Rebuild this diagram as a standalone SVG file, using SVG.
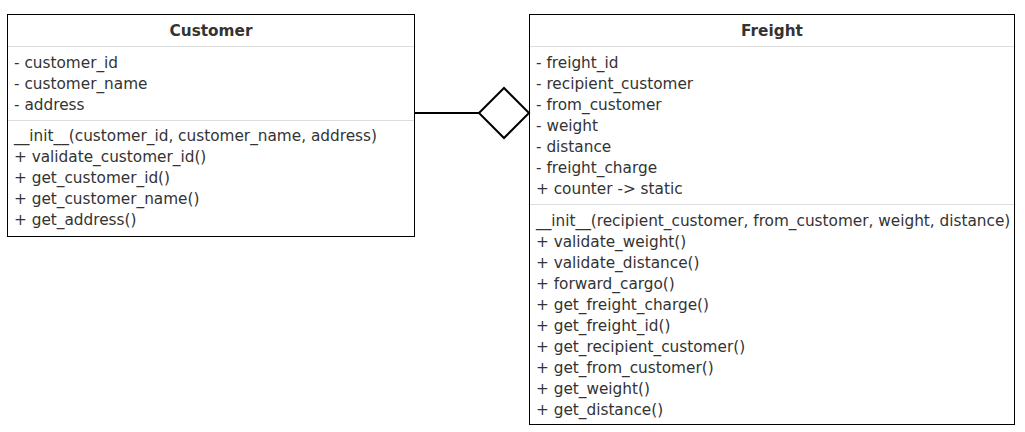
<svg xmlns="http://www.w3.org/2000/svg" width="1025" height="432" viewBox="0 0 1025 432">
<style>
.box{fill:#fff;stroke:#000;stroke-width:1}
.sep{stroke:#dddddd;stroke-width:1}
text{font-family:"DejaVu Sans",Verdana,sans-serif;font-size:15.3px;fill:#333}
.title{font-weight:bold;text-anchor:middle}
.conn{stroke:#000;stroke-width:2;fill:none}
</style>
<rect width="1025" height="432" fill="#fff"/>
<g id="customer">
<rect class="box" x="7.5" y="14.5" width="407" height="222"/>
<line class="sep" x1="8" y1="46.5" x2="414" y2="46.5"/>
<line class="sep" x1="8" y1="120.5" x2="414" y2="120.5"/>
<text class="title" x="211" y="36">Customer</text>
<text x="14" y="68">- customer_id</text>
<text x="14" y="89">- customer_name</text>
<text x="14" y="110">- address</text>
<text x="14" y="141">__init__(customer_id, customer_name, address)</text>
<text x="14" y="162">+ validate_customer_id()</text>
<text x="14" y="183">+ get_customer_id()</text>
<text x="14" y="204">+ get_customer_name()</text>
<text x="14" y="225">+ get_address()</text>
</g>
<g id="freight">
<rect class="box" x="529.5" y="14.5" width="485" height="410"/>
<line class="sep" x1="530" y1="46.5" x2="1014" y2="46.5"/>
<line class="sep" x1="530" y1="204.5" x2="1014" y2="204.5"/>
<text class="title" x="772" y="36">Freight</text>
<text x="536" y="68">- freight_id</text>
<text x="536" y="89">- recipient_customer</text>
<text x="536" y="110">- from_customer</text>
<text x="536" y="131">- weight</text>
<text x="536" y="152">- distance</text>
<text x="536" y="173">- freight_charge</text>
<text x="536" y="194">+ counter -&gt; static</text>
<text x="536" y="226">__init__(recipient_customer, from_customer, weight, distance)</text>
<text x="536" y="247">+ validate_weight()</text>
<text x="536" y="268">+ validate_distance()</text>
<text x="536" y="289">+ forward_cargo()</text>
<text x="536" y="310">+ get_freight_charge()</text>
<text x="536" y="331">+ get_freight_id()</text>
<text x="536" y="352">+ get_recipient_customer()</text>
<text x="536" y="373">+ get_from_customer()</text>
<text x="536" y="394">+ get_weight()</text>
<text x="536" y="415">+ get_distance()</text>
</g>
<g id="connectors">
<line class="conn" x1="414" y1="113" x2="479" y2="113"/>
<polygon class="conn" style="fill:#fff" points="479,113 504,88 529,113 504,138"/>
</g>
</svg>
